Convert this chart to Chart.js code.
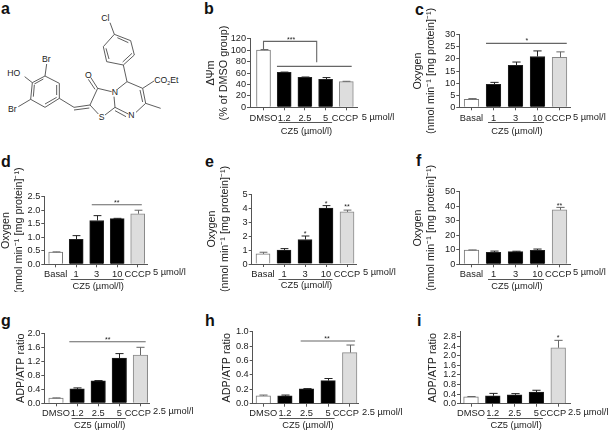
<!DOCTYPE html>
<html>
<head>
<meta charset="utf-8">
<script src="https://cdn.jsdelivr.net/npm/chart.js@4/dist/chart.umd.js"></script>
<style>
html, body { margin: 0; padding: 0; background: #fff; width: 609px; height: 431px; overflow: hidden; }
canvas, svg, .tag { position: absolute; }
.tag { font: bold 16px "Liberation Sans", sans-serif; color: #111; line-height: 16px; }
svg text { font: 8.6px "Liberation Sans", sans-serif; fill: #222; }
</style>
</head>
<body>
<svg id="mol" style="left:0;top:0" width="200" height="150" viewBox="0 0 600 450">
  <g stroke="#444" stroke-width="2.6" fill="none">
    <path d="M330 68L343 103"/>
    <path d="M343 103L392 122L403 165L370 195L320 185L310 140Z"/>
    <path d="M352 113L385 128M396 160L368 186M327 177L318 145"/>
    <path d="M370 195L381 245L352 268M381 245L428 265L462 243M428 265L437 310L482 325M437 310L408 337M420 270L428 306"/>
    <path d="M345 322L385 342M345 332L378 350M342 290L345 322L315 345M295 342L270 315L293 265L335 275"/>
    <path d="M293 265L272 232M285 268L265 238M270 315L222 322M268 324L222 330M222 322L178 295"/>
    <path d="M178 295L178 250L135 228L97 248L92 298L135 322L178 295M170 285L170 255M130 237L103 252M100 290L103 255M135 312L170 292"/>
    <path d="M135 228L140 192M97 248L74 230M92 298L55 320"/>
  </g>
  <g>
    <text x="304" y="64" style="font-size:26px">Cl</text>
    <text x="126" y="187" style="font-size:26px">Br</text>
    <text x="22" y="227" style="font-size:26px">HO</text>
    <text x="24" y="335" style="font-size:26px">Br</text>
    <text x="255" y="233" style="font-size:26px">O</text>
    <text x="296" y="361" style="font-size:26px">S</text>
    <text x="335" y="286" style="font-size:26px">N</text>
    <text x="385" y="354" style="font-size:26px">N</text>
    <text x="463" y="250" style="font-size:26px">CO<tspan dy="4" style="font-size:16px">2</tspan><tspan dy="-4">Et</tspan></text>
  </g>
</svg>
<div class="tag" style="left:1px;top:1px">a</div>
<div class="tag" style="left:204px;top:1px">b</div>
<div class="tag" style="left:415px;top:2px">c</div>
<div class="tag" style="left:1px;top:154px">d</div>
<div class="tag" style="left:205px;top:154px">e</div>
<div class="tag" style="left:416px;top:153px">f</div>
<div class="tag" style="left:1px;top:313px">g</div>
<div class="tag" style="left:205px;top:313px">h</div>
<div class="tag" style="left:417px;top:313px">i</div>
<script>
// category names
const dmsoCategories = ['DMSO', '1.2', '2.5', '5', 'CCCP'];
const basalCategories = ['Basal', '1', '3', '10', 'CCCP'];

// series values and upper error bars
const bValues = [100, 61, 52.5, 49, 45];
const bErrors = [1, 0.6, 0.5, 3, 0.5];
const cValues = [3.3, 9.5, 17.3, 21, 20.7];
const cErrors = [0.3, 0.8, 1.4, 2.3, 2.2];
const dValues = [0.45, 0.92, 1.62, 1.69, 1.87];
const dErrors = [0.01, 0.14, 0.18, 0.01, 0.13];
const eValues = [0.72, 1.0, 1.75, 4.0, 3.72];
const eErrors = [0.12, 0.1, 0.25, 0.17, 0.13];
const fValues = [9.8, 8.3, 8.7, 9.7, 37.5];
const fErrors = [0.1, 0.8, 0.3, 0.8, 1.7];
const gValues = [0.15, 0.41, 0.64, 1.29, 1.38];
const gErrors = [0.005, 0.03, 0.01, 0.13, 0.22];
const hValues = [0.11, 0.11, 0.205, 0.32, 0.71];
const hErrors = [0.01, 0.01, 0.005, 0.03, 0.105];
const iValues = [0.29, 0.33, 0.37, 0.48, 2.33];
const iErrors = [0.01, 0.1, 0.05, 0.08, 0.31];

// y axis tick labels
const bTicks = ['0', '20', '40', '60', '80', '100', '120'];
const cTicks = ['0', '5', '10', '15', '20', '25', '30'];
const dTicks = ['0.0', '0.5', '1.0', '1.5', '2.0', '2.5'];
const eTicks = ['0', '1', '2', '3', '4', '5'];
const fTicks = ['0', '10', '20', '30', '40', '50'];
const gTicks = ['0.0', '0.4', '0.8', '1.2', '1.6', '2.0'];
const hTicks = ['0.0', '0.2', '0.4', '0.6', '0.8', '1.0'];
const iTicks = ['0.0', '0.4', '0.8', '1.2', '1.6', '2.0', '2.4', '2.8'];

// significance lines as [category, value] points, stars as [category, value, text]
const bLines = [[[0, 101.3], [0, 115.3], [2.57, 115.3], [2.57, 78.6]], [[0.65, 71.6], [4.26, 71.6]]];
const bStars = [[1.33, 118.8, '***']];
const cLines = [[[0.66, 26.4], [4.33, 26.4]]];
const cStars = [[2.52, 27.8, '*']];
const dLines = [[[1.76, 2.2], [4.2, 2.2]]];
const dStars = [[2.98, 2.29, '**']];
const eStars = [[2, 2.2, '*'], [3, 4.33, '*'], [4, 4.14, '**']];
const fStars = [[4, 40.8, '**']];
const gLines = [[[0.63, 1.76], [4.25, 1.76]]];
const gStars = [[2.45, 1.84, '**']];
const hLines = [[[1.73, 0.87], [4.25, 0.87]]];
const hStars = [[2.95, 0.91, '**']];
const iStars = [[4, 2.76, '*']];

const oxygenTitle = ['Oxygen', '(nmol min\u207B\u00B9 [mg protein]\u207B\u00B9)'];
const FONT = '"Liberation Sans", sans-serif';
const AXIS = '#555';
const INK = '#222';

Chart.defaults.font.family = FONT;
Chart.defaults.color = INK;
Chart.defaults.animation = false;

// draws error bars, significance marks and the labels under the x axis
const extras = {
    id: 'extras',
    afterDatasetsDraw(chart, args, opts) {
        const { ctx } = chart;
        const x = chart.scales.x;
        const y = chart.scales.y;
        const values = chart.data.datasets[0].data;

        ctx.save();
        ctx.lineWidth = 1;
        opts.errors.forEach((err, i) => {
            const cx = Math.round(x.getPixelForValue(i)) + 0.5;
            const top = y.getPixelForValue(values[i].y + err);
            const base = y.getPixelForValue(values[i].y);
            const cap = opts.barWidth * 0.28;
            ctx.strokeStyle = i === 0 || i === 4 ? '#666' : '#222';
            ctx.beginPath();
            ctx.moveTo(cx, base);
            ctx.lineTo(cx, top);
            ctx.moveTo(cx - cap, top);
            ctx.lineTo(cx + cap, top);
            ctx.stroke();
        });

        ctx.strokeStyle = '#666';
        ctx.lineWidth = 1.1;
        opts.lines.forEach(points => {
            ctx.beginPath();
            points.forEach(([px, py], i) => {
                const sx = x.getPixelForValue(px);
                const sy = y.getPixelForValue(py);
                if (i === 0) ctx.moveTo(sx, sy);
                else ctx.lineTo(sx, sy);
            });
            ctx.stroke();
        });

        ctx.fillStyle = INK;
        ctx.textAlign = 'center';
        ctx.textBaseline = 'middle';
        ctx.font = `7px ${FONT}`;
        opts.stars.forEach(([px, py, text]) => {
            ctx.fillText(text, x.getPixelForValue(px), y.getPixelForValue(py) + 1);
        });

        const y0 = y.getPixelForValue(0);
        const lineLeft = x.getPixelForValue(1) - 5.5;
        const lineRight = x.getPixelForValue(3) + 6.5;
        ctx.strokeStyle = '#555';
        ctx.lineWidth = 1;
        ctx.beginPath();
        ctx.moveTo(lineLeft, Math.round(y0 + opts.rows[1]) + 0.5);
        ctx.lineTo(lineRight, Math.round(y0 + opts.rows[1]) + 0.5);
        ctx.stroke();

        ctx.font = `9.3px ${FONT}`;
        ctx.fillText('CZ5 (\u00B5mol/l)', (lineLeft + lineRight) / 2 + 1, y0 + opts.rows[2]);
        ctx.textAlign = 'left';
        ctx.fillText(opts.unit, opts.unitX, y0 + opts.rows[0]);
        ctx.restore();
    }
};

// layout is in page pixels, one canvas per panel
function drawPanel(layout, categories, values, errors, ticks, title, lines, stars, unit) {
    const [left, top, width, height] = layout.rect;
    const canvas = document.createElement('canvas');
    canvas.style.left = left + 'px';
    canvas.style.top = top + 'px';
    canvas.width = width;
    canvas.height = height;
    document.body.appendChild(canvas);

    const yValues = ticks.map(Number);
    // the last label sits a little left of its bar, trailing spaces push it over
    const lastPad = ' '.repeat(layout.lastPad || 0);
    new Chart(canvas, {
        type: 'bar',
        plugins: [extras],
        data: {
            datasets: [{
                data: values.map((v, i) => ({ x: i, y: v })),
                barThickness: layout.barWidth,
                backgroundColor: ['#fff', '#000', '#000', '#000', '#ddd'],
                borderColor: ['#777', '#222', '#222', '#222', '#888'],
                borderWidth: 1
            }]
        },
        options: {
            responsive: false,
            layout: {
                autoPadding: false,
                padding: { left: 0, bottom: 0, top: layout.yTop - top, right: left + width - layout.xEnd }
            },
            plugins: {
                legend: { display: false },
                title: { display: false },
                tooltip: { enabled: false },
                extras: {
                    errors, lines, stars, unit,
                    unitX: layout.unitX - left,
                    rows: layout.rows,
                    barWidth: layout.barWidth
                }
            },
            scales: {
                x: {
                    type: 'linear',
                    offset: false,
                    min: (layout.axisX - layout.first) / layout.step,
                    max: (layout.xEnd - layout.first) / layout.step,
                    afterBuildTicks: scale => { scale.ticks = categories.map((c, i) => ({ value: i })); },
                    afterFit: scale => { scale.height = top + height - layout.y0; },
                    border: { color: AXIS, width: 1 },
                    grid: { offset: false, drawOnChartArea: false, tickLength: 3, tickColor: AXIS },
                    ticks: {
                        autoSkip: false,
                        maxRotation: 0,
                        padding: layout.rows[0] - 7,
                        font: { size: 9.3 },
                        callback: (v, i) => (i === categories.length - 1 ? categories[i] + lastPad : categories[i])
                    }
                },
                y: {
                    min: 0,
                    max: layout.yMax || yValues[yValues.length - 1],
                    afterBuildTicks: scale => { scale.ticks = yValues.map(v => ({ value: v })); },
                    afterFit: scale => { scale.width = layout.axisX - left; },
                    border: { color: AXIS, width: 1 },
                    grid: { drawOnChartArea: false, tickLength: 3, tickColor: AXIS },
                    ticks: {
                        autoSkip: false,
                        padding: 1,
                        font: { size: 9.2 },
                        callback: (v, i) => ticks[i]
                    },
                    title: {
                        display: true,
                        text: title,
                        padding: 0,
                        font: { size: 10.8, lineHeight: 1.25 }
                    }
                }
            }
        }
    });
}

const topRows = [9.7, 15, 23.7];
const lowRows = [8.4, 14.5, 21.7];

drawPanel({ rect: [204, 0, 194, 145], axisX: 250, y0: 107.3, yTop: 38.7, xEnd: 357, first: 263.5, step: 20.7, barWidth: 14, unitX: 361.7, rows: topRows, lastPad: 1 },
    dmsoCategories, bValues, bErrors, bTicks, ['\u0394\u03A8m', '(% of DMSO group)'], bLines, bStars, '5 \u00B5mol/l');
drawPanel({ rect: [411, 0, 198, 145], axisX: 459.3, y0: 107.3, yTop: 34.7, xEnd: 570.7, first: 471.5, step: 22, barWidth: 14.7, unitX: 573, rows: topRows, lastPad: 1 },
    basalCategories, cValues, cErrors, cTicks, oxygenTitle, cLines, cStars, '5 \u00B5mol/l');
drawPanel({ rect: [-1, 150, 198, 142], axisX: 44.3, y0: 264.3, yTop: 196.7, xEnd: 147.7, first: 55.7, step: 20.5, barWidth: 14, unitX: 153, rows: lowRows },
    basalCategories, dValues, dErrors, dTicks, oxygenTitle, dLines, dStars, '5 \u00B5mol/l');
drawPanel({ rect: [205, 150, 192, 142], axisX: 251.7, y0: 264, yTop: 194, xEnd: 356.7, first: 263, step: 21, barWidth: 14, unitX: 363, rows: lowRows },
    basalCategories, eValues, eErrors, eTicks, oxygenTitle, [], eStars, '5 \u00B5mol/l');
drawPanel({ rect: [411, 150, 198, 142], axisX: 459.3, y0: 264.3, yTop: 191.7, xEnd: 570.7, first: 471.5, step: 22, barWidth: 14.7, unitX: 573, rows: lowRows, lastPad: 1 },
    basalCategories, fValues, fErrors, fTicks, oxygenTitle, [], fStars, '5 \u00B5mol/l');
drawPanel({ rect: [14, 320, 181, 111], axisX: 44.3, y0: 403.3, yTop: 333.3, xEnd: 149, first: 56, step: 21.1, barWidth: 14.5, unitX: 153, rows: lowRows, lastPad: 2 },
    dmsoCategories, gValues, gErrors, gTicks, ['ADP/ATP ratio'], gLines, gStars, '2.5 \u00B5mol/l');
drawPanel({ rect: [220, 320, 182, 111], axisX: 252.7, y0: 403.7, yTop: 331.7, xEnd: 358.3, first: 263.3, step: 21.6, barWidth: 14.5, unitX: 362, rows: lowRows, lastPad: 3 },
    dmsoCategories, hValues, hErrors, hTicks, ['ADP/ATP ratio'], hLines, hStars, '2.5 \u00B5mol/l');
drawPanel({ rect: [426, 320, 183, 111], axisX: 460, y0: 403.7, yTop: 331.7, xEnd: 570, first: 471, step: 21.8, barWidth: 14.7, unitX: 568, rows: lowRows, yMax: 3, lastPad: 4 },
    dmsoCategories, iValues, iErrors, iTicks, ['ADP/ATP ratio'], [], iStars, '2.5 \u00B5mol/l');
</script>
</body>
</html>
